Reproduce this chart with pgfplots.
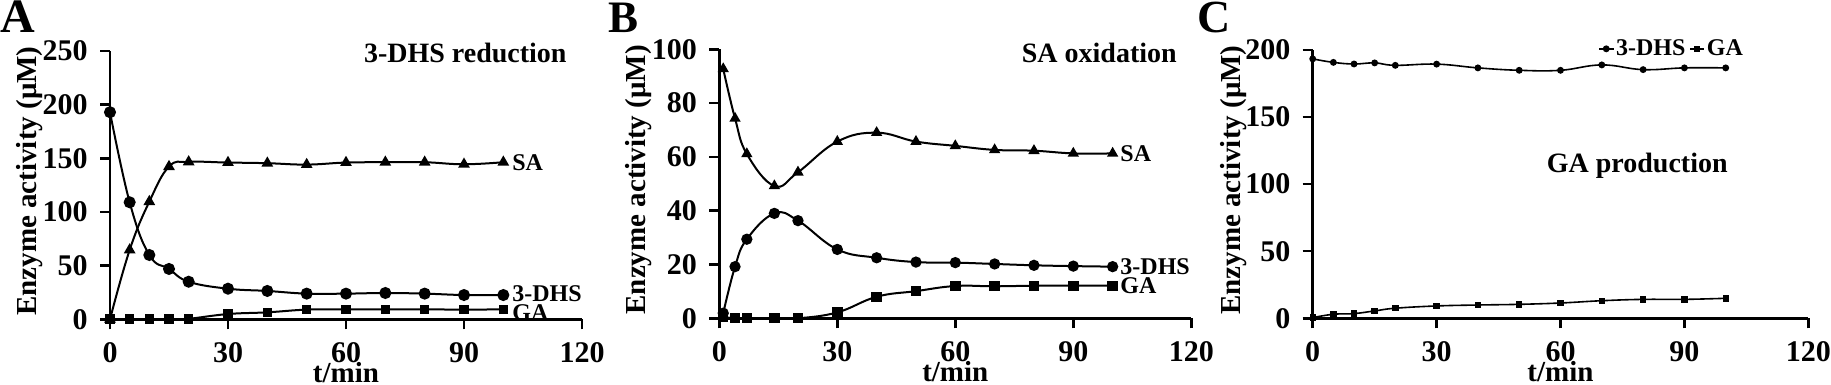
\documentclass[border=0pt]{standalone}
\usepackage{fontspec}
\setmainfont{Liberation Serif}
\usepackage{pgfplots}
\pgfplotsset{compat=1.18}

\tikzset{
  tag/.style={font=\fontsize{12}{12}\selectfont\bfseries, inner sep=0pt},
  heading/.style={font=\fontsize{14}{14}\selectfont\bfseries, inner sep=0pt},
}
\pgfplotsset{
  panel/.style={
    scale only axis, width=236pt, height=134.2pt,
    axis x line*=bottom, axis y line*=left, tick pos=left,
    axis line style={-, line width=1.3pt},
    tick style={line width=1.3pt, black}, major tick length=5pt, tick align=outside,
    xmin=0, xmax=120, xtick={0,30,60,90,120}, ymin=0,
    enlargelimits=false, clip=false,
    /pgf/number format/assume math mode=true,
    tick label style={font=\fontsize{15}{15}\selectfont\bfseries},
    xticklabel style={anchor=north, yshift=-6.5pt, inner sep=0pt},
    yticklabel style={anchor=east, xshift=-6pt, inner sep=0pt},
    label style={font=\fontsize{14.5}{15}\selectfont\bfseries},
    xlabel={t/min}, ylabel={Enzyme activity (μM)},
    xlabel style={at={(axis description cs:0.5,-0.235)}, anchor=base},
    every axis plot/.append style={black, line width=1pt, smooth, tension=0.7,
      mark options={solid, fill=black}},
  },
}

\begin{document}
\begin{tikzpicture}
\useasboundingbox (0,0) rectangle (915.5pt,192.5pt);

% A: 3-DHS reduction
\begin{axis}[panel, at={(55pt,32.85pt)}, anchor=south west,
  ymax=250, ytick={0,50,100,150,200,250},
  ylabel style={at={(axis description cs:-0.1547,0.515)}, anchor=base}]
\addplot[mark=*, mark size=2.5pt] coordinates {
 (0,192.9)(5,109)(10,59.9)(15,46.9)(20,35)(30,28.5)(40,26.4)(50,23.9)
 (60,23.9)(70,24.5)(80,23.9)(90,22.6)(100,22.6)};
\addplot[mark=triangle*, mark size=2.4pt] coordinates {
 (0,0)(5,64.6)(10,109.6)(15,142.2)(20,146.6)(30,146)(40,145.4)(50,144.1)
 (60,146)(70,146.3)(80,146.3)(90,144.4)(100,146.3)};
\addplot[mark=square*, mark size=1.9pt] coordinates {
 (0,0)(5,0)(10,0)(15,0)(20,0.5)(30,4.9)(40,6.5)(50,9)(60,9.3)(70,9.3)
 (80,9.3)(90,9)(100,9.3)};
\node[tag, anchor=west, xshift=4.3pt] at (axis cs:100,146.3) {SA};
\node[tag, anchor=west, xshift=4.3pt, yshift=0.5pt] at (axis cs:100,22.6) {3-DHS};
\node[tag, anchor=west, xshift=4.3pt, yshift=-1.5pt] at (axis cs:100,9.3) {GA};
\node[heading, anchor=base east] at (rel axis cs:0.968,0.957) {3-DHS reduction};
\end{axis}

% B: SA oxidation
\begin{axis}[panel, at={(359.65pt,33.35pt)}, anchor=south west, height=134.5pt,
  ymax=100, ytick={0,20,40,60,80,100},
  ylabel style={at={(axis description cs:-0.1574,0.515)}, anchor=base}]
\addplot[mark=triangle*, mark size=2.3pt] coordinates {
 (1,92.7)(4,74.3)(7,61.1)(14,49.2)(20,54.3)(30,65.7)(40,69)(50,65.7)
 (60,64.1)(70,62.6)(80,62.3)(90,61.3)(100,61.3)};
\addplot[mark=*, mark size=2.3pt] coordinates {
 (1,1.9)(4,19.2)(7,29.4)(14,39)(20,36.3)(30,25.6)(40,22.5)(50,20.9)
 (60,20.7)(70,20.2)(80,19.7)(90,19.4)(100,19.2)};
\addplot[mark=square*, mark size=2.1pt] coordinates {
 (1,0.5)(4,0)(7,0)(14,0)(20,0)(30,2.2)(40,8)(50,10.1)(60,12)(70,11.9)
 (80,12.1)(90,12.1)(100,12.1)};
\node[tag, anchor=west, xshift=3.7pt] at (axis cs:100,61.3) {SA};
\node[tag, anchor=west, xshift=3.7pt] at (axis cs:100,19.2) {3-DHS};
\node[tag, anchor=west, xshift=3.7pt] at (axis cs:100,12.1) {GA};
\node[heading, anchor=base east] at (rel axis cs:0.970,0.951) {SA oxidation};
\end{axis}

% C: GA production
\begin{axis}[panel, at={(656.35pt,33.35pt)}, anchor=south west, width=247.8pt,
  ymax=200, ytick={0,50,100,150,200},
  ylabel style={at={(axis description cs:-0.1467,0.515)}, anchor=base},
  every axis plot/.append style={line width=0.8pt},
  legend columns=2,
  legend style={at={(rel axis cs:0.5757,1.004)}, anchor=west, draw=none, fill=none,
    inner sep=0pt, font=\fontsize{12}{12}\selectfont\bfseries,
    nodes={inner sep=1pt},
    /tikz/every even column/.append style={column sep=1pt}},
  legend image code/.code={\draw[mark repeat=2,mark phase=2]
    plot coordinates {(0pt,0pt) (3.5pt,0pt) (7pt,0pt)};}]
\addplot[mark=*, mark size=1.3pt] coordinates {
 (0,193.3)(5,190.7)(10,189.5)(15,190.3)(20,188.5)(30,189.4)(40,186.6)
 (50,184.8)(60,184.8)(70,188.8)(80,185.3)(90,186.6)(100,186.6)};
\addlegendentry{3-DHS}
\addplot[mark=square*, mark size=1.2pt] coordinates {
 (0,0.5)(5,3)(10,3.5)(15,5.5)(20,7.5)(30,9.2)(40,9.9)(50,10.4)(60,11.4)
 (70,13.1)(80,14.1)(90,14.1)(100,14.9)};
\addlegendentry{GA}
\node[heading, anchor=base east] at (rel axis cs:0.838,0.5434) {GA production};
\end{axis}

\node[anchor=base west, inner sep=0pt, font=\fontsize{24}{24}\selectfont\bfseries] at (0pt,176pt) {A};
\node[anchor=base west, inner sep=0pt, font=\fontsize{22.5}{23}\selectfont\bfseries] at (304pt,176pt) {B};
\node[anchor=base west, inner sep=0pt, font=\fontsize{23}{23}\selectfont\bfseries] at (598.5pt,176pt) {C};
\end{tikzpicture}
\end{document}
